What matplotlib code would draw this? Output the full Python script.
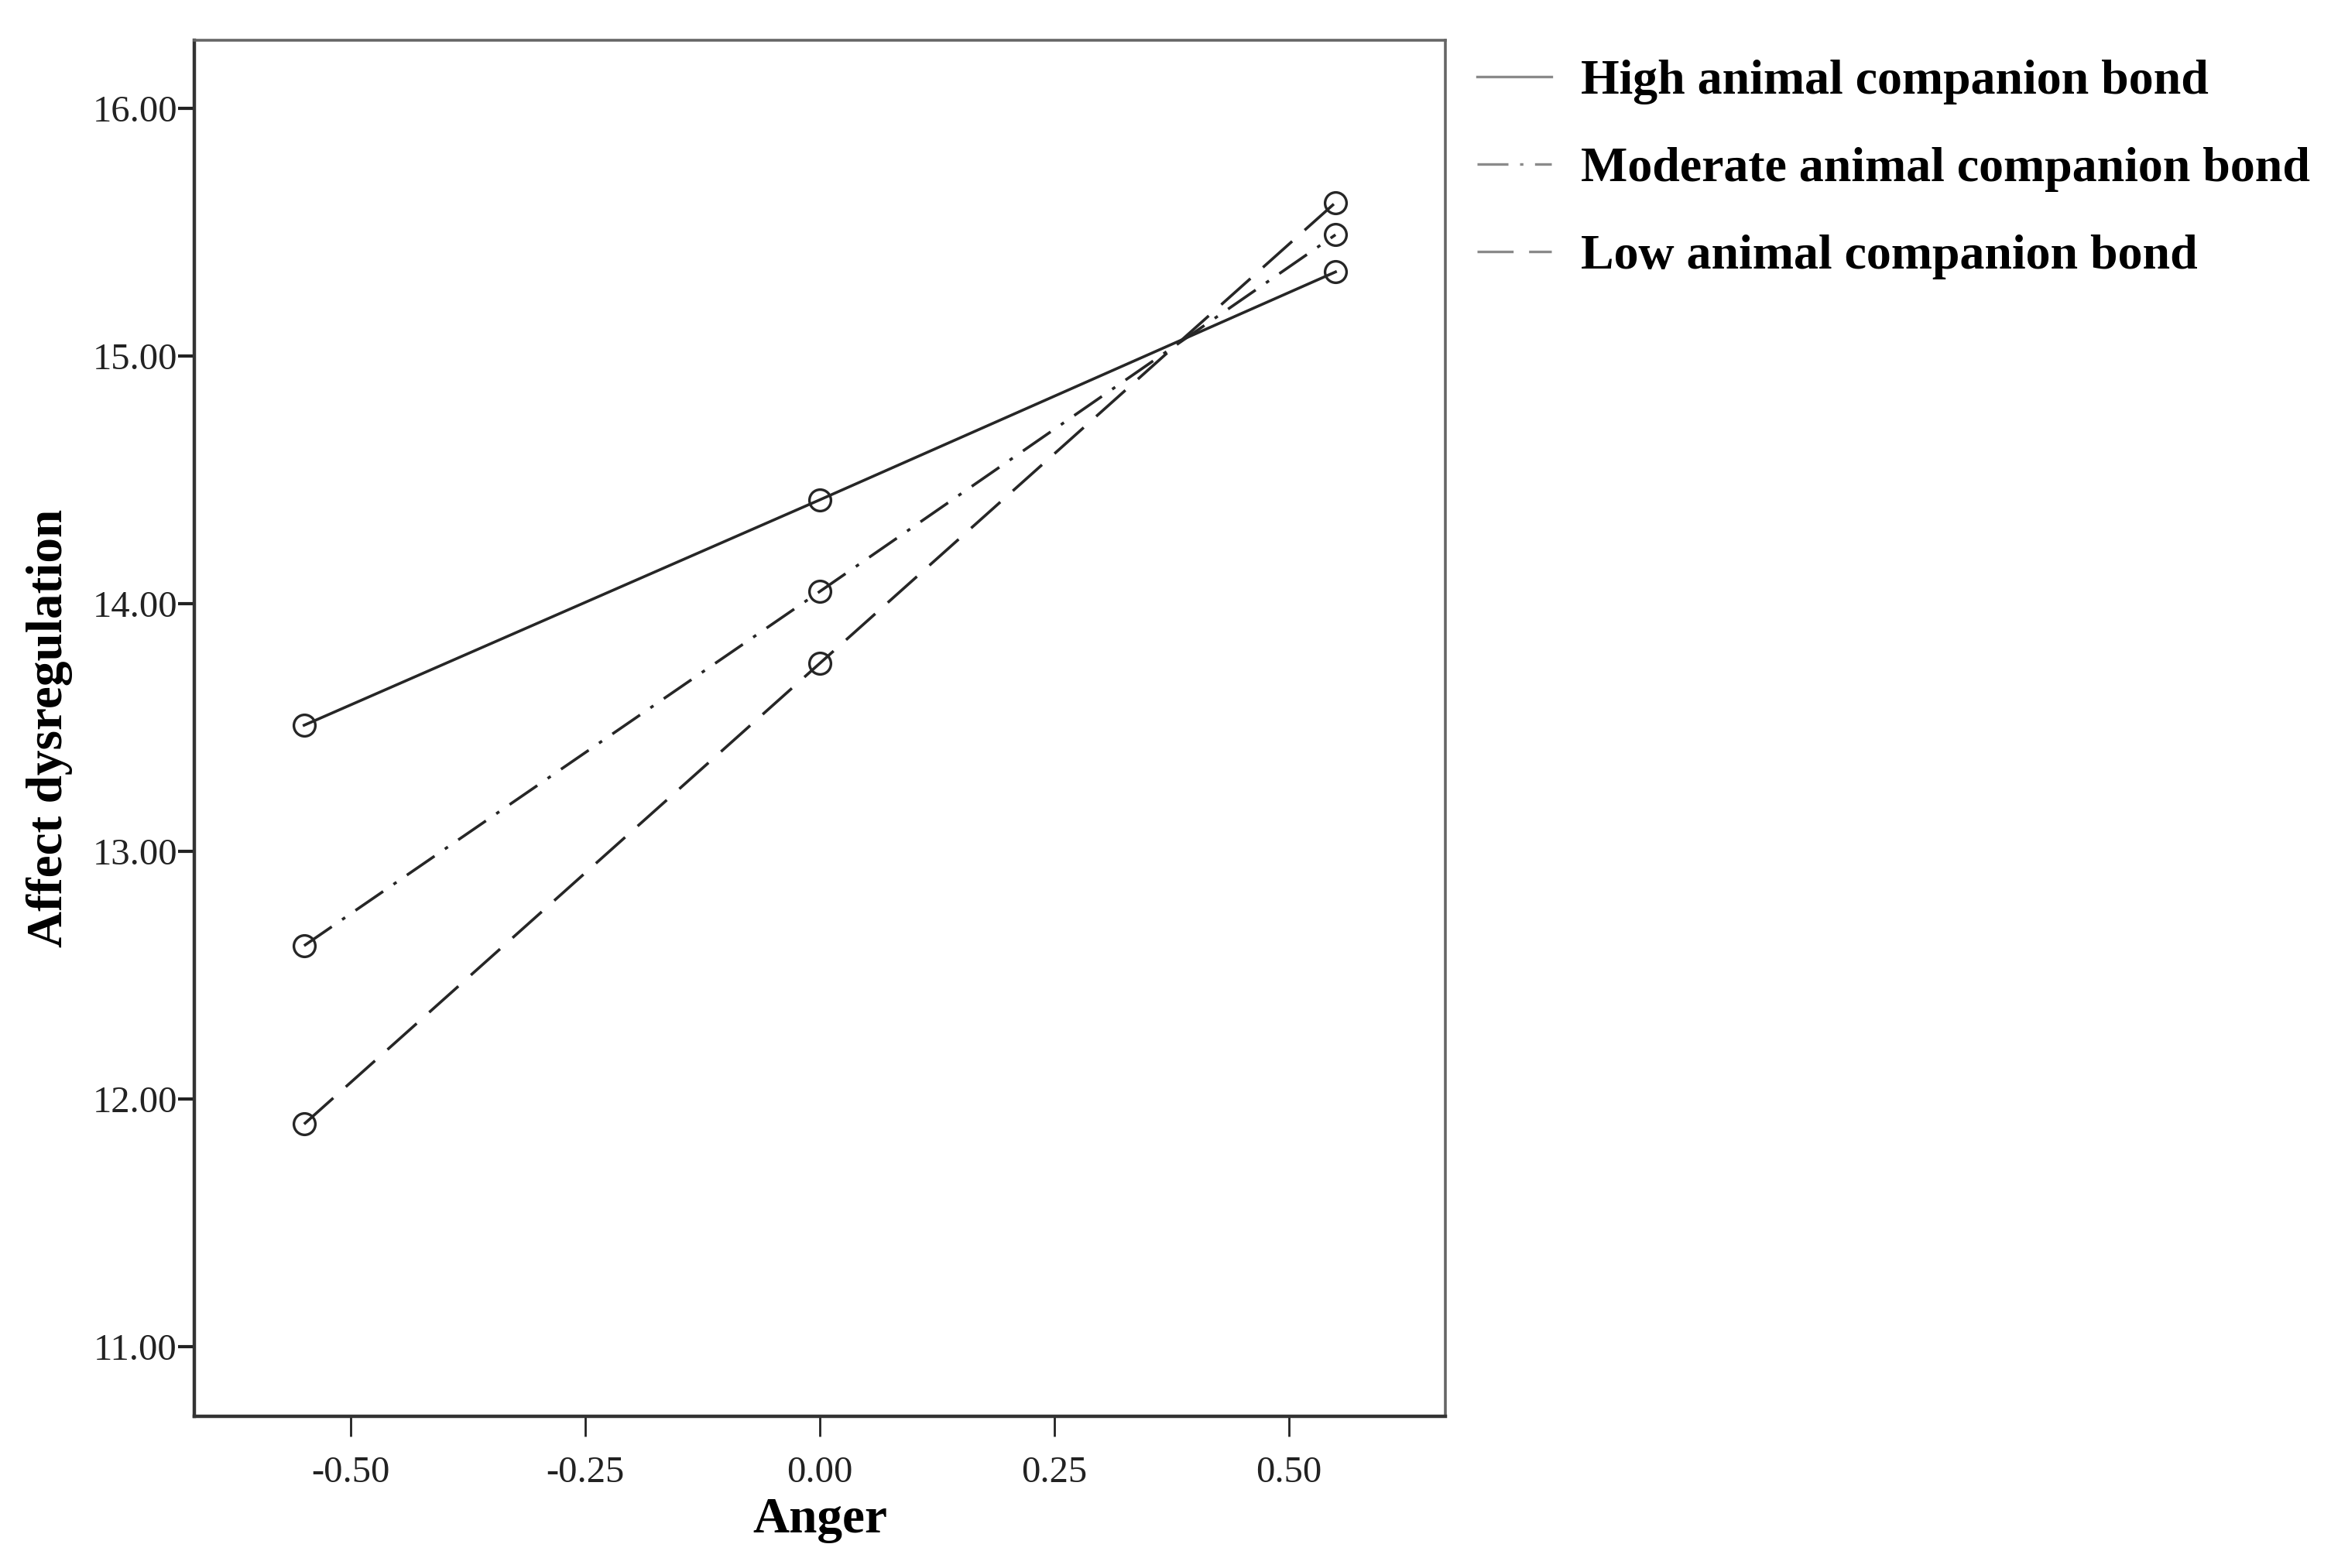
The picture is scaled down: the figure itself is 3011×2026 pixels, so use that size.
import matplotlib
matplotlib.use("Agg")
import matplotlib.pyplot as plt
from matplotlib.lines import Line2D

# values
anger = [-0.55, 0.00, 0.55]
high_bond = [13.51, 14.42, 15.34]
moderate_bond = [12.62, 14.05, 15.49]
low_bond = [11.90, 13.76, 15.62]
series_labels = ["High animal companion bond",
                 "Moderate animal companion bond",
                 "Low animal companion bond"]
x_ticks = [-0.50, -0.25, 0.00, 0.25, 0.50]
y_ticks = [11.00, 12.00, 13.00, 14.00, 15.00, 16.00]

serif = ["Liberation Serif", "DejaVu Serif"]
plt.rcParams["font.family"] = serif

fig = plt.figure(figsize=(30.11, 20.26), dpi=100)
ax = fig.add_axes([0.0834, 0.0967, 0.5366, 0.8776])

line_col = "#262626"
styles = ["-", (0, (12, 4.5, 1.3, 4.5)), (0, (14, 6))]
for ys, ls in zip([high_bond, moderate_bond, low_bond], styles):
	ax.plot(anger, ys, color=line_col, lw=2.6, linestyle=ls,
		marker="o", markersize=20, markerfacecolor="none",
		markeredgecolor=line_col, markeredgewidth=2.4)

ax.set_xlim(-0.667, 0.667)
ax.set_ylim(10.72, 16.275)
ax.set_xticks(x_ticks)
ax.set_xticklabels([f"{v:.2f}" for v in x_ticks])
ax.set_yticks(y_ticks)
ax.set_yticklabels([f"{v:.2f}" for v in y_ticks])

ax.tick_params(axis="x", length=19, width=2, pad=18, labelsize=35, colors="#222222")
ax.tick_params(axis="y", length=15, width=3, pad=1, labelsize=35, colors="#222222")

for side in ["left", "bottom"]:
	ax.spines[side].set_linewidth(3.2)
	ax.spines[side].set_color("#333333")
for side in ["top", "right"]:
	ax.spines[side].set_linewidth(2.6)
	ax.spines[side].set_color("#666666")

ax.set_xlabel("Anger", fontsize=47, fontweight="bold", labelpad=6)
ax.set_ylabel("Affect dysregulation", fontsize=47, fontweight="bold", labelpad=18)

handles = [Line2D([], [], color="#8a8a8a", lw=2.4, linestyle=ls) for ls in styles]
fig.legend(handles, series_labels, loc="upper left", bbox_to_anchor=(0.623, 0.978),
	frameon=False, handlelength=1.5, handletextpad=0.6,
	labelspacing=0.85, borderpad=0, prop={"weight": "bold", "size": 46})

fig.savefig("out.png", dpi=100, facecolor="white")
